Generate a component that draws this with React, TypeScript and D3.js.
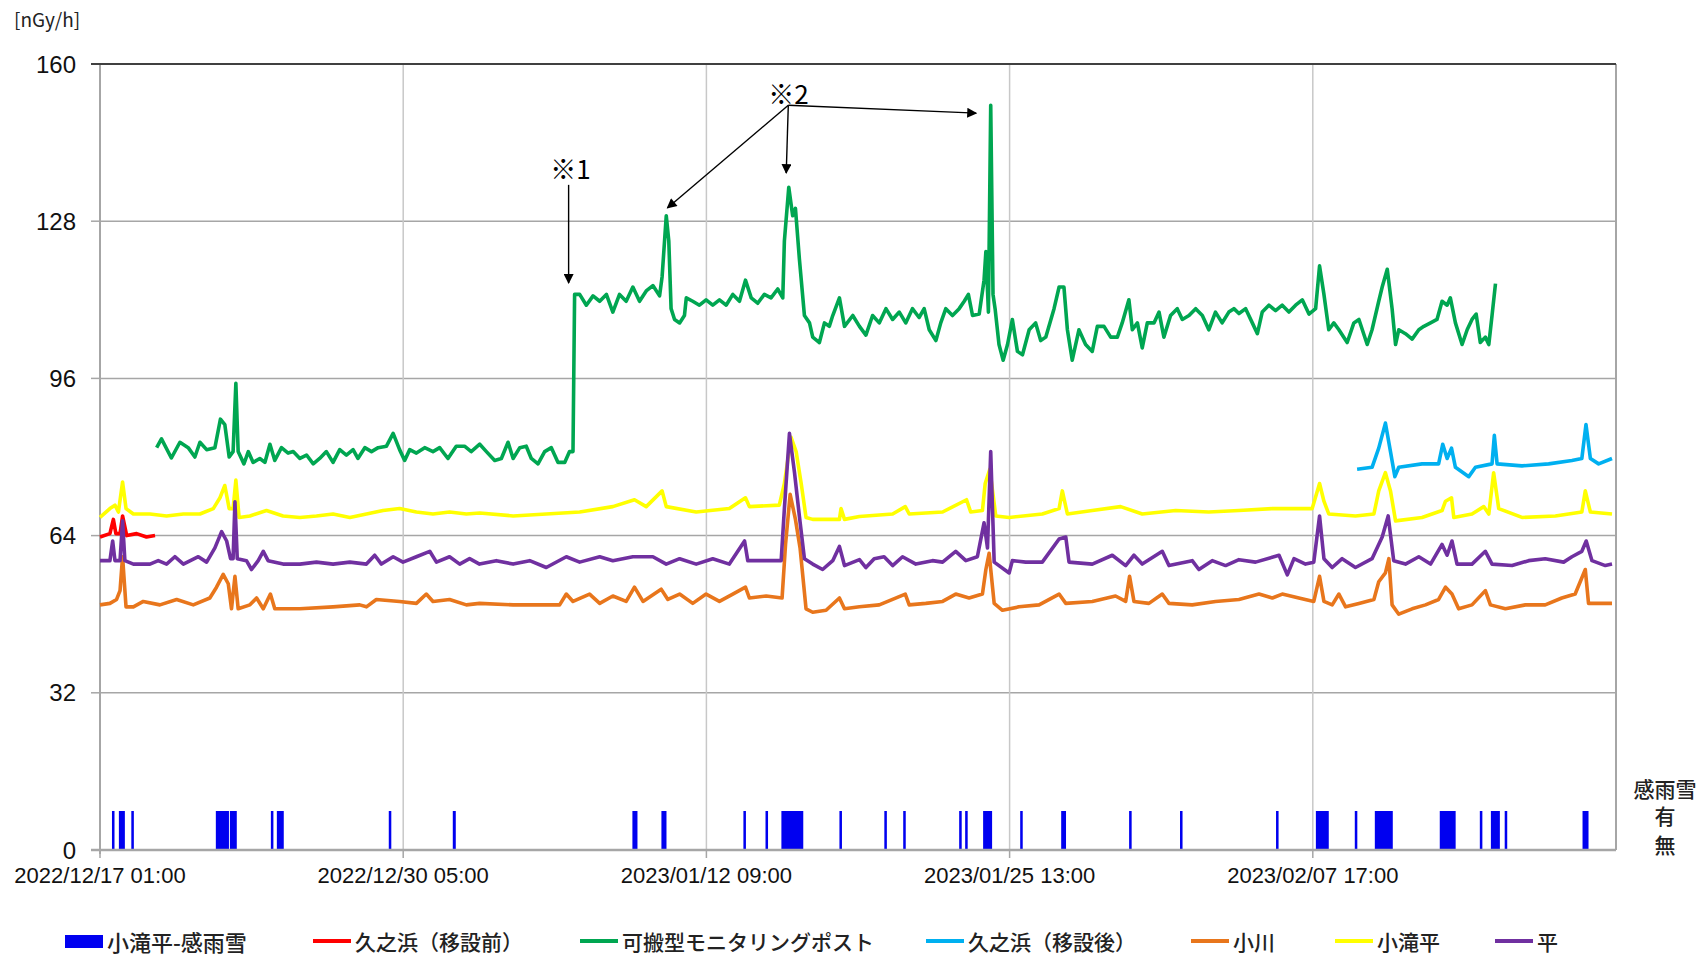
import * as d3 from "d3";

type Pt = [number, number]; // [days since start, nGy/h]

const START = new Date(2022, 11, 17, 1);
const SPAN_HOURS = 1580;

const tickLabels = [
  "2022/12/17 01:00",
  "2022/12/30 05:00",
  "2023/01/12 09:00",
  "2023/01/25 13:00",
  "2023/02/07 17:00",
];
const yTicks = [0, 32, 64, 96, 128, 160];

// 小滝平 rain/snow detection, [start day, end day]
const rain: Pt[] = [
  [0.52, 0.63], [0.82, 1.08], [1.36, 1.47], [5.03, 5.6], [5.64, 5.94], [7.42, 7.53],
  [7.68, 7.98], [12.54, 12.65], [15.32, 15.45], [23.12, 23.34], [24.38, 24.6],
  [27.94, 28.05], [28.9, 29.01], [29.59, 30.54], [32.11, 32.22], [34.06, 34.17],
  [34.88, 34.99], [37.31, 37.42], [37.57, 37.68], [38.35, 38.74], [39.96, 40.07],
  [41.74, 41.95], [44.69, 44.8], [46.9, 47.01], [51.07, 51.18], [52.8, 53.36],
  [54.49, 54.6], [55.36, 56.14], [58.18, 58.87], [59.92, 60.03], [60.4, 60.79],
  [61.0, 61.11], [64.38, 64.64],
];

const kunohamaBefore: Pt[] = [
  [0, 63.7], [0.43, 64.4], [0.58, 67.3], [0.69, 64.4], [0.87, 64.4], [0.98, 68.0],
  [1.16, 64.0], [1.59, 64.4], [2.02, 63.7], [2.39, 64.0],
];

const portable: Pt[] = [
  [2.46, 81.9], [2.67, 83.7], [3.1, 79.8], [3.47, 83], [3.83, 81.9], [4.12, 80], [4.34, 83],
  [4.63, 81.5], [4.99, 81.9], [5.23, 87.7], [5.42, 86.6], [5.61, 80], [5.78, 81.1], [5.9, 95],
  [6.0, 81.1], [6.25, 78.6], [6.44, 81.1], [6.65, 78.9], [6.94, 79.7], [7.16, 78.9], [7.38, 82.6],
  [7.59, 79.3], [7.88, 81.9], [8.17, 80.8], [8.39, 81.1], [8.68, 79.7], [8.97, 80.4], [9.26, 78.6],
  [9.54, 79.7], [9.83, 81.1], [10.12, 78.9], [10.41, 81.5], [10.7, 80.4], [10.99, 81.5],
  [11.2, 79.7], [11.5, 81.9], [11.79, 81.1], [12.08, 81.9], [12.44, 82.2], [12.73, 84.8],
  [13.01, 81.5], [13.23, 79.3], [13.45, 81.5], [13.74, 80.8], [14.1, 81.9], [14.46, 81.1],
  [14.75, 81.9], [15.11, 79.7], [15.47, 82.2], [15.83, 82.2], [16.12, 81.1], [16.49, 82.6],
  [16.78, 81.1], [17.14, 79.3], [17.43, 79.7], [17.72, 83], [17.94, 79.7], [18.23, 81.9],
  [18.51, 82.2], [18.73, 79.7], [19.02, 78.6], [19.31, 81.1], [19.6, 81.9], [19.89, 78.9],
  [20.18, 78.9], [20.39, 81.1], [20.54, 81.1], [20.61, 113.1], [20.83, 113.1], [21.12, 110.9],
  [21.41, 112.8], [21.7, 111.7], [21.99, 113.1], [22.27, 109.5], [22.56, 113.1], [22.85, 111.7],
  [23.14, 114.6], [23.43, 111.7], [23.72, 113.8], [24.01, 114.9], [24.3, 112.8], [24.41, 116.7],
  [24.59, 129.1], [24.7, 124], [24.8, 110.2], [24.95, 108], [25.17, 107.3], [25.38, 108.8],
  [25.46, 112.4], [25.74, 111.7], [26.03, 110.9], [26.32, 112], [26.61, 110.9], [26.9, 112],
  [27.19, 110.9], [27.48, 113.1], [27.77, 111.7], [28.03, 116], [28.28, 112.4], [28.56, 111.3],
  [28.85, 113.1], [29.14, 112.4], [29.43, 114.2], [29.65, 112.4], [29.72, 124], [29.91, 134.9],
  [30.08, 129.1], [30.2, 130.6], [30.37, 120.4], [30.59, 108.8], [30.81, 107.3], [30.95, 104.4],
  [31.24, 103.3], [31.46, 107.3], [31.67, 106.6], [31.82, 108.8], [32.11, 112.4], [32.33, 106.6],
  [32.69, 108.8], [32.98, 106.6], [33.26, 104.8], [33.55, 108.8], [33.84, 107.3], [34.13, 110.2],
  [34.42, 108], [34.71, 109.5], [34.99, 107.3], [35.28, 110.2], [35.57, 108.4], [35.79, 110.2],
  [36.01, 105.9], [36.3, 103.7], [36.51, 107.3], [36.73, 110.2], [37.02, 108.8], [37.31, 110.2],
  [37.53, 111.7], [37.71, 113.1], [37.89, 108.8], [38.18, 109.1], [38.39, 116], [38.47, 121.8],
  [38.58, 109.5], [38.68, 151.6], [38.78, 113.1], [38.87, 110.2], [39.04, 102.9], [39.22, 99.7],
  [39.41, 102.9], [39.62, 108], [39.84, 101.5], [40.06, 100.8], [40.35, 105.9], [40.63, 107.3],
  [40.85, 103.7], [41.07, 104.4], [41.43, 110.2], [41.65, 114.6], [41.86, 114.6], [42.01, 105.9],
  [42.22, 99.7], [42.51, 105.9], [42.8, 102.9], [43.09, 101.5], [43.31, 106.6], [43.6, 106.6],
  [43.89, 104.4], [44.18, 104.4], [44.39, 107.3], [44.68, 112], [44.83, 105.9], [45.05, 107.3],
  [45.26, 102.2], [45.48, 107.3], [45.77, 107.3], [45.99, 109.5], [46.2, 104.4], [46.49, 108.8],
  [46.78, 110.2], [47, 108], [47.29, 108.8], [47.58, 110.2], [47.87, 108.8], [48.15, 105.9],
  [48.44, 109.5], [48.73, 107.3], [49.02, 109.5], [49.24, 110.2], [49.46, 109.2], [49.75, 110.2],
  [50.04, 107.3], [50.26, 105.1], [50.47, 109.5], [50.76, 110.9], [51.05, 109.8], [51.34, 110.9],
  [51.63, 109.5], [51.92, 110.9], [52.21, 112], [52.5, 109.1], [52.79, 110.2], [52.96, 118.9],
  [53.15, 113.1], [53.36, 105.9], [53.58, 107.3], [53.8, 105.9], [54.16, 103.3], [54.45, 107.3],
  [54.67, 108], [55.03, 102.9], [55.24, 105.9], [55.53, 111.7], [55.68, 114.6], [55.9, 118.2],
  [56.11, 110.2], [56.26, 102.9], [56.4, 105.9], [56.69, 105.1], [56.98, 104], [57.27, 105.9],
  [57.49, 106.6], [57.78, 107.3], [58.06, 108], [58.28, 111.7], [58.5, 110.9], [58.64, 112.4],
  [58.86, 107.3], [59.15, 102.9], [59.37, 105.9], [59.58, 108], [59.76, 109.1], [59.94, 103.3],
  [60.16, 104.4], [60.31, 102.9], [60.45, 108.8], [60.6, 115.3],
];

const kunohamaAfter: Pt[] = [
  [54.59, 77.5], [55.24, 77.9], [55.53, 81.8], [55.82, 86.9], [56.04, 81.1], [56.23, 76.0],
  [56.4, 77.9], [57.41, 78.6], [58.13, 78.6], [58.31, 82.6], [58.5, 79.7], [58.69, 81.8],
  [58.86, 77.9], [59.44, 76.0], [59.73, 77.9], [60.45, 78.6], [60.55, 84.4], [60.67, 78.6],
  [61.75, 78.2], [62.91, 78.6], [63.92, 79.3], [64.35, 79.7], [64.53, 86.6], [64.72, 79.7],
  [65.08, 78.6], [65.66, 79.7],
];

const ogawa: Pt[] = [
  [0, 49.9], [0.43, 50.2], [0.72, 51.0], [0.87, 52.8], [0.98, 59.7], [1.13, 49.5], [1.45, 49.5],
  [1.88, 50.6], [2.6, 49.9], [3.33, 51], [4.05, 49.9], [4.77, 51.3], [5.06, 53.5], [5.35, 56.1],
  [5.57, 54.2], [5.71, 49.1], [5.86, 55.7], [6.0, 49.1], [6.51, 49.9], [6.8, 51.3], [7.09, 49.1],
  [7.4, 52.1], [7.59, 49.1], [8.68, 49.1], [10.12, 49.5], [11.28, 49.9], [11.57, 49.5],
  [12.0, 51], [13.01, 50.6], [13.74, 50.2], [14.17, 52.1], [14.46, 50.6], [15.18, 51],
  [15.91, 49.9], [16.48, 50.2], [17.94, 49.9], [19.96, 49.9], [20.25, 52.1], [20.54, 50.6],
  [21.26, 52.1], [21.7, 50.2], [22.27, 51.7], [22.85, 50.6], [23.21, 53.5], [23.58, 50.6],
  [24.37, 53.1], [24.66, 51], [25.17, 52.1], [25.74, 50.2], [26.32, 52.1], [26.9, 50.6],
  [27.48, 52.1], [28.03, 53.5], [28.2, 51.3], [28.93, 51.7], [29.62, 51.3], [29.77, 62.2],
  [29.97, 72.4], [30.2, 67.3], [30.4, 61.5], [30.66, 49.1], [30.95, 48.4], [31.53, 48.8],
  [32.11, 51.3], [32.33, 49.1], [32.98, 49.5], [33.84, 49.9], [34.97, 52.1], [35.14, 49.9],
  [35.86, 50.2], [36.59, 50.6], [37.16, 52.1], [37.74, 51.3], [38.32, 52.1], [38.47, 57.1],
  [38.61, 60.4], [38.83, 50.2], [39.19, 48.8], [39.91, 49.5], [40.78, 49.9], [41.65, 52.1],
  [41.94, 50.2], [43.09, 50.6], [44.1, 51.7], [44.54, 50.6], [44.71, 55.7], [44.9, 50.6],
  [45.55, 50.2], [46.13, 52.1], [46.42, 50.2], [47.43, 49.9], [48.44, 50.6], [49.46, 51.0],
  [50.33, 52.1], [50.91, 51.3], [51.34, 52.1], [52.06, 51.3], [52.71, 50.6], [52.96, 55.7],
  [53.15, 50.6], [53.51, 49.9], [53.8, 52.1], [54.09, 49.5], [54.67, 50.2], [55.32, 51],
  [55.53, 54.6], [55.82, 56.4], [55.97, 59.3], [56.11, 49.9], [56.4, 48.0], [56.98, 49.1],
  [57.56, 49.9], [58.13, 51], [58.43, 53.5], [58.71, 52.1], [59.0, 49.1], [59.58, 49.9],
  [60.16, 52.8], [60.38, 49.9], [61.03, 49.1], [61.9, 49.9], [62.76, 49.9], [63.48, 51.3],
  [64.06, 52.1], [64.5, 57.1], [64.64, 50.2], [65.66, 50.2],
];

const kotakidaira: Pt[] = [
  [0, 67.7], [0.43, 69.5], [0.65, 70.2], [0.8, 68.8], [0.98, 74.9], [1.13, 69.5], [1.45, 68.4],
  [2.17, 68.4], [2.89, 68.0], [3.62, 68.4], [4.34, 68.4], [4.92, 69.5], [5.21, 71.7],
  [5.42, 74.2], [5.61, 69.5], [5.78, 69.5], [5.9, 75.3], [6.04, 67.7], [6.51, 68], [7.23, 69.1],
  [7.95, 68], [8.68, 67.7], [9.4, 68], [10.12, 68.4], [10.85, 67.7], [11.57, 68.4], [12.29, 69.1],
  [13.01, 69.5], [13.74, 68.8], [14.46, 68.4], [15.18, 68.8], [15.91, 68.4], [16.49, 68.6],
  [17.94, 68], [19.38, 68.4], [20.83, 68.8], [22.27, 69.9], [23.21, 71.3], [23.72, 69.9],
  [24.41, 73.1], [24.59, 69.9], [25.89, 68.8], [27.33, 69.5], [28.03, 71.7], [28.2, 69.9],
  [29.5, 70.2], [29.72, 74.6], [30.01, 84.0], [30.23, 81.1], [30.45, 74.6], [30.66, 67.7],
  [30.95, 67.3], [32.11, 67.3], [32.18, 69.5], [32.33, 67.3], [32.98, 67.9], [34.42, 68.4],
  [34.97, 69.9], [35.14, 68.4], [36.59, 68.8], [37.63, 71.3], [37.81, 68.8], [38.32, 69.1],
  [38.44, 74.6], [38.64, 77.5], [38.9, 68], [39.48, 67.7], [40.92, 68.4], [41.65, 69.5],
  [41.79, 73.1], [42.01, 68.4], [43.09, 69.1], [44.32, 69.9], [45.26, 68.4], [46.71, 69.1],
  [48.15, 68.8], [49.46, 69.1], [50.91, 69.5], [52.64, 69.5], [52.96, 74.6], [53.15, 71],
  [53.36, 68.4], [54.52, 68], [55.32, 68.4], [55.53, 73.1], [55.82, 76.8], [56.04, 73.1],
  [56.26, 67], [57.41, 67.7], [58.28, 69.1], [58.43, 71], [58.69, 71.7], [58.79, 67.7],
  [59.58, 68.4], [60.09, 69.9], [60.31, 68.4], [60.52, 76.8], [60.74, 69.5], [61.75, 67.7],
  [63.2, 68], [64.35, 68.8], [64.5, 73.1], [64.72, 68.8], [65.66, 68.4],
];

const taira: Pt[] = [
  [0, 58.9], [0.43, 58.9], [0.55, 62.9], [0.65, 58.9], [0.87, 58.9], [0.98, 67], [1.08, 58.9],
  [1.45, 58.2], [2.17, 58.2], [2.53, 58.9], [2.89, 58.2], [3.25, 59.7], [3.62, 58.2], [4.27, 59.7],
  [4.63, 58.6], [4.99, 61.5], [5.28, 64.8], [5.5, 62.9], [5.67, 59.3], [5.78, 59.3], [5.86, 70.9],
  [5.96, 59.3], [6.36, 58.9], [6.58, 57.1], [6.87, 58.9], [7.09, 60.8], [7.3, 58.9], [7.95, 58.2],
  [8.68, 58.2], [9.4, 58.6], [10.12, 58.2], [10.85, 58.6], [11.57, 58.2], [11.93, 60.0],
  [12.22, 58.2], [12.73, 59.7], [13.16, 58.6], [13.74, 59.7], [14.32, 60.8], [14.61, 58.6],
  [15.18, 59.7], [15.62, 58.2], [16.05, 59.3], [16.48, 58.2], [17.21, 58.9], [17.94, 58.2],
  [18.66, 58.9], [19.38, 57.5], [20.25, 59.7], [20.83, 58.6], [21.7, 59.7], [22.27, 58.9],
  [23.14, 59.7], [24.01, 59.7], [24.59, 58.2], [25.17, 59.3], [25.89, 58.2], [26.61, 59.3],
  [27.33, 58.2], [27.99, 62.9], [28.13, 58.9], [28.78, 58.9], [29.58, 58.9], [29.72, 69.5],
  [29.94, 84.8], [30.16, 76.8], [30.37, 68], [30.59, 59.3], [30.95, 58.2], [31.38, 57.1],
  [31.82, 58.9], [32.11, 61.8], [32.33, 57.9], [32.98, 59.1], [33.26, 57.5], [33.62, 59.3],
  [34.05, 59.7], [34.42, 57.9], [34.85, 59.7], [35.43, 58.2], [36.15, 58.9], [36.59, 58.6],
  [37.16, 60.8], [37.6, 58.9], [38.1, 59.7], [38.39, 66.6], [38.54, 61.5], [38.68, 81.1],
  [38.83, 58.6], [39.48, 56.4], [39.62, 58.9], [40.2, 58.6], [40.92, 58.6], [41.65, 63.3],
  [41.94, 63.7], [42.08, 58.6], [43.09, 58.2], [43.96, 60.0], [44.54, 57.9], [44.9, 60.0],
  [45.26, 58.2], [46.13, 60.8], [46.42, 57.9], [47.43, 58.9], [47.72, 57.1], [48.3, 58.9],
  [48.88, 57.9], [49.46, 59.1], [50.18, 58.6], [51.2, 60.0], [51.56, 56.0], [51.85, 59.3],
  [52.35, 58.2], [52.71, 58.6], [52.96, 68], [53.15, 59.3], [53.51, 57.5], [53.94, 59.3],
  [54.52, 57.5], [55.24, 59.3], [55.68, 63.7], [55.94, 68], [56.18, 58.9], [56.69, 58.2],
  [57.27, 59.7], [57.78, 58.2], [58.28, 62.2], [58.5, 60], [58.71, 62.9], [58.93, 58.2],
  [59.58, 58.2], [60.16, 60.8], [60.45, 58.2], [61.32, 57.9], [62.04, 58.9], [62.76, 59.3],
  [63.56, 58.6], [63.92, 59.7], [64.35, 60.8], [64.54, 62.9], [64.79, 58.9], [65.37, 57.9],
  [65.66, 58.2],
];

// annotation anchors in data space
const note1 = { label: "※1", text: [20.43, 139.0] as Pt, from: [20.35, 135.4] as Pt, to: [20.35, 115.4] as Pt };
const note2 = {
  label: "※2",
  text: [29.9, 154.2] as Pt,
  from: [29.89, 151.6] as Pt,
  to: [[24.64, 130.7], [29.8, 137.8], [38.05, 150.0]] as Pt[],
};

const lines = [
  { name: "久之浜（移設前）", color: "#ff0000", data: kunohamaBefore },
  { name: "可搬型モニタリングポスト", color: "#00a651", data: portable },
  { name: "久之浜（移設後）", color: "#00b0f0", data: kunohamaAfter },
  { name: "小川", color: "#e8761c", data: ogawa },
  { name: "小滝平", color: "#ffff00", data: kotakidaira },
  { name: "平", color: "#7030a0", data: taira },
];
const RAIN_COLOR = "#0000f0";
const legendX = [65, 313, 580, 926, 1191, 1335, 1495];

const W = 1708;
const H = 956;
const plot = { left: 100, right: 1616, top: 64, bottom: 850 };
const jp = '"Noto Sans CJK JP", sans-serif';
const num = '"Liberation Sans", Arial, sans-serif';

const toDate = (d: number) => new Date(START.getTime() + d * 864e5);
const parse = d3.timeParse("%Y/%m/%d %H:%M");

export default function App() {
  const x = d3
    .scaleTime()
    .domain([START, d3.timeHour.offset(START, SPAN_HOURS)])
    .range([plot.left, plot.right]);
  const y = d3.scaleLinear().domain([0, 160]).range([plot.bottom, plot.top]);
  const yRain = d3.scaleLinear().domain([0, 1]).range([plot.bottom, 811]);
  const line = d3
    .line<Pt>()
    .x((d) => x(toDate(d[0])))
    .y((d) => y(d[1]));
  const px = (p: Pt) => [x(toDate(p[0])), y(p[1])];
  const xTicks = tickLabels.map((t) => parse(t) as Date);

  const arrow = (a: Pt, b: Pt, key: string) => {
    const [x1, y1] = px(a);
    const [x2, y2] = px(b);
    return (
      <line key={key} x1={x1} y1={y1} x2={x2} y2={y2} stroke="#000" strokeWidth={1.4} markerEnd="url(#ah)" />
    );
  };

  return (
    <svg
      width={W}
      height={H}
      style={{ position: "absolute", left: 0, top: 0, background: "#fff" }}
    >
      <defs>
        <marker id="ah" viewBox="0 0 10 10" refX="9" refY="5" markerWidth="11" markerHeight="10" markerUnits="userSpaceOnUse" orient="auto">
          <path d="M0,0 L10,5 L0,10 z" fill="#000" />
        </marker>
      </defs>
      <rect width={W} height={H} fill="#fff" />

      {/* grid */}
      {yTicks.map((t) => (
        <g key={t}>
          {t !== 0 && t !== 160 && (
            <line x1={plot.left} x2={plot.right} y1={y(t)} y2={y(t)} stroke="#a6a6a6" strokeWidth={1.5} />
          )}
          <line x1={plot.left - 9} x2={plot.left} y1={y(t)} y2={y(t)} stroke="#a6a6a6" strokeWidth={1.5} />
          <text x={76} y={y(t)} dominantBaseline="central" textAnchor="end" fontFamily={num} fontSize={24} fill="#111">
            {t}
          </text>
        </g>
      ))}
      {xTicks.map((t, i) => (
        <g key={i}>
          {i !== 0 && (
            <line x1={x(t)} x2={x(t)} y1={plot.top} y2={plot.bottom} stroke="#c8c8c8" strokeWidth={1.5} />
          )}
          <line x1={x(t)} x2={x(t)} y1={plot.bottom} y2={plot.bottom + 8} stroke="#a6a6a6" strokeWidth={1.5} />
          <text x={x(t)} y={883} textAnchor="middle" fontFamily={num} fontSize={22} fill="#111">
            {tickLabels[i]}
          </text>
        </g>
      ))}
      <line x1={plot.right} x2={plot.right} y1={plot.top} y2={plot.bottom} stroke="#a6a6a6" strokeWidth={2} />
      <line x1={plot.left} x2={plot.left} y1={plot.top} y2={plot.bottom + 4} stroke="#a6a6a6" strokeWidth={2} />
      <line x1={plot.left - 9} x2={plot.right} y1={plot.top} y2={plot.top} stroke="#404040" strokeWidth={2} />

      {/* rain bars */}
      {rain.map(([s, e], i) => (
        <rect
          key={i}
          x={x(toDate(s))}
          width={x(toDate(e)) - x(toDate(s))}
          y={yRain(1)}
          height={yRain(0) - yRain(1)}
          fill={RAIN_COLOR}
        />
      ))}
      <line x1={plot.left - 9} x2={plot.right} y1={plot.bottom} y2={plot.bottom} stroke="#a6a6a6" strokeWidth={2.5} />

      {/* series */}
      {lines.map((s) => (
        <path key={s.name} d={line(s.data) ?? ""} fill="none" stroke={s.color} strokeWidth={3.6} strokeLinejoin="round" />
      ))}

      {/* annotations */}
      <text x={px(note1.text)[0]} y={px(note1.text)[1]} textAnchor="middle" dominantBaseline="central" fontFamily={jp} fontSize={26}>
        {note1.label}
      </text>
      {arrow(note1.from, note1.to, "a1")}
      <text x={px(note2.text)[0]} y={px(note2.text)[1]} textAnchor="middle" dominantBaseline="central" fontFamily={jp} fontSize={26}>
        {note2.label}
      </text>
      {note2.to.map((t, i) => arrow(note2.from, t, `b${i}`))}

      {/* unit + secondary labels */}
      <text x={14} y={18} dominantBaseline="central" fontFamily={jp} fontSize={19} fill="#222">
        [nGy/h]
      </text>
      <text x={1665} y={788} textAnchor="middle" dominantBaseline="central" fontFamily={jp} fontSize={21} fontWeight={500} fill="#222">
        感雨雪
      </text>
      <text x={1665} y={yRain(1) + 4} textAnchor="middle" dominantBaseline="central" fontFamily={jp} fontSize={21} fontWeight={500} fill="#222">
        有
      </text>
      <text x={1665} y={yRain(0) - 6} textAnchor="middle" dominantBaseline="central" fontFamily={jp} fontSize={21} fontWeight={500} fill="#222">
        無
      </text>

      {/* legend */}
      <g>
        <rect x={legendX[0]} y={935} width={38} height={13} fill={RAIN_COLOR} />
        <text x={legendX[0] + 42} y={941} dominantBaseline="central" fontFamily={jp} fontSize={22} fontWeight={500} fill="#222">
          小滝平-感雨雪
        </text>
        {lines.map((s, i) => (
          <g key={s.name}>
            <rect x={legendX[i + 1]} y={939} width={38} height={4} fill={s.color} />
            <text x={legendX[i + 1] + 42} y={941} dominantBaseline="central" fontFamily={jp} fontSize={21} fontWeight={500} fill="#222">
              {s.name}
            </text>
          </g>
        ))}
      </g>
    </svg>
  );
}
